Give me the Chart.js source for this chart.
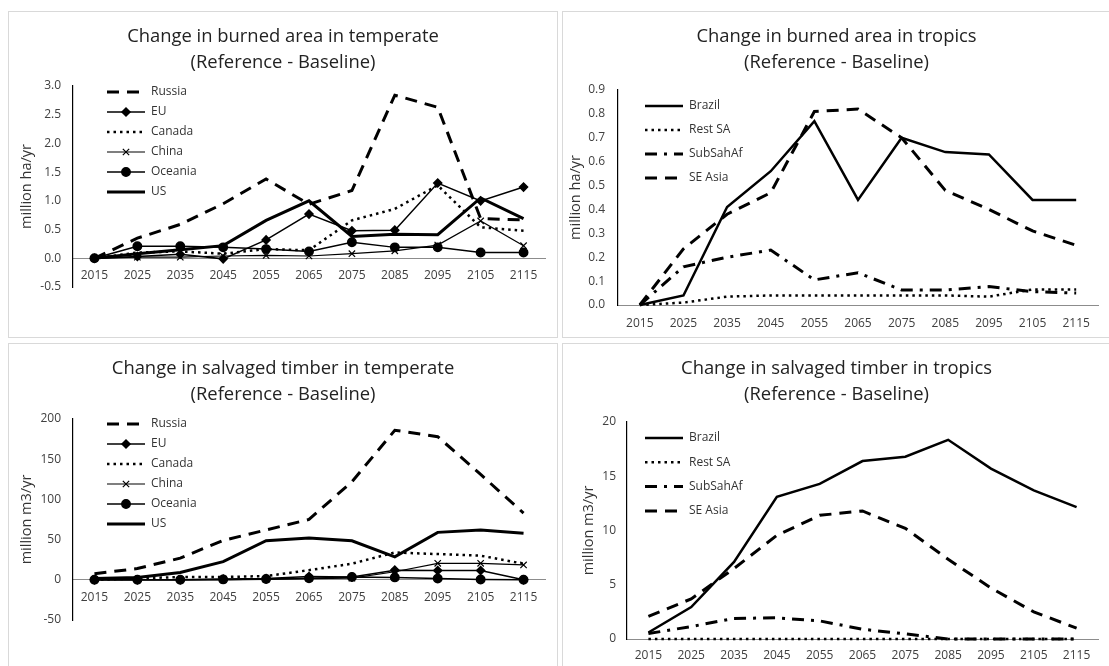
<!DOCTYPE html>
<html>
<head>
<meta charset="utf-8">
<script src="https://cdn.jsdelivr.net/npm/chart.js@4.4.0/dist/chart.umd.min.js"></script>
<style>
    body { margin: 0; background: #fff; width: 1109px; height: 666px; overflow: hidden; position: relative; }
    .panel { position: absolute; border: 1px solid #d9d9d9; box-sizing: border-box; }
    canvas { display: block; }
</style>
</head>
<body>
<div class="panel" style="left:8px;top:11px;width:550px;height:327px;"><canvas id="burned-temperate" width="548" height="325"></canvas></div>
<div class="panel" style="left:562px;top:11px;width:549px;height:327px;"><canvas id="burned-tropics" width="547" height="325"></canvas></div>
<div class="panel" style="left:8px;top:343px;width:550px;height:330px;"><canvas id="salvaged-temperate" width="548" height="328"></canvas></div>
<div class="panel" style="left:562px;top:343px;width:549px;height:330px;"><canvas id="salvaged-tropics" width="547" height="328"></canvas></div>
<script>
const years = ['2015', '2025', '2035', '2045', '2055', '2065', '2075', '2085', '2095', '2105', '2115'];

// burned area, temperate (million ha/yr)
const russiaBurned = [0, 0.35, 0.59, 0.95, 1.38, 0.94, 1.18, 2.84, 2.63, 0.69, 0.67];
const euBurned = [0, 0.03, 0.07, -0.01, 0.32, 0.77, 0.48, 0.49, 1.31, 1.0, 1.24];
const canadaBurned = [0, 0.1, 0.12, 0.08, 0.16, 0.14, 0.66, 0.86, 1.27, 0.54, 0.48];
const chinaBurned = [0, 0.02, 0.02, 0.04, 0.05, 0.04, 0.08, 0.13, 0.23, 0.65, 0.22];
const oceaniaBurned = [0, 0.21, 0.21, 0.19, 0.16, 0.12, 0.28, 0.19, 0.19, 0.1, 0.1];
const usBurned = [0, 0.08, 0.15, 0.22, 0.66, 1.0, 0.38, 0.42, 0.41, 1.05, 0.69];

// burned area, tropics (million ha/yr)
const brazilBurned = [0, 0.04, 0.41, 0.56, 0.77, 0.44, 0.70, 0.64, 0.63, 0.44, 0.44];
const restSaBurned = [0, 0.01, 0.035, 0.04, 0.04, 0.04, 0.04, 0.04, 0.035, 0.065, 0.065];
const subSahAfBurned = [0, 0.16, 0.2, 0.23, 0.105, 0.135, 0.063, 0.063, 0.077, 0.056, 0.05];
const seAsiaBurned = [0, 0.235, 0.38, 0.47, 0.81, 0.82, 0.70, 0.48, 0.40, 0.31, 0.25];

// salvaged timber, temperate (million m3/yr)
const russiaSalvaged = [7.5, 14, 27, 49, 62, 75, 122, 186, 178, 131, 83];
const euSalvaged = [0, 0, 0, 1, 1.5, 4, 3.5, 12, 11.5, 11.5, 0];
const canadaSalvaged = [0, 1.7, 3.5, 3.5, 4.6, 12, 20, 34, 32, 30, 20];
const chinaSalvaged = [0, 0, 0, 0, 0.5, 1.5, 2, 10, 20.5, 20.5, 18.5];
const oceaniaSalvaged = [0, 0, 0, 0.5, 1, 2, 3.5, 3, 1.5, 0.3, 0];
const usSalvaged = [1.5, 3, 9, 22.6, 48.6, 52, 48.6, 28.5, 59, 62, 58];

// salvaged timber, tropics (million m3/yr)
const brazilSalvaged = [0.6, 2.95, 7.1, 13.1, 14.3, 16.4, 16.8, 18.36, 15.7, 13.7, 12.15];
const restSaSalvaged = [0, 0, 0, 0, 0, 0, 0, 0, 0, 0, 0];
const subSahAfSalvaged = [0.5, 1.15, 1.9, 1.95, 1.67, 0.9, 0.47, 0, 0, 0, 0];
const seAsiaSalvaged = [2.08, 3.7, 6.5, 9.55, 11.4, 11.8, 10.2, 7.35, 4.7, 2.5, 1.0];

const FONT = "'Open Sans', sans-serif";
const INK = '#000';

// line styles, shared by both temperate and both tropical charts
const styles = {
    dashed: { borderWidth: 3, borderDash: [12, 8], pointRadius: 0 },
    dotted: { borderWidth: 2.5, borderDash: [2.5, 4], pointRadius: 0 },
    dashDot: { borderWidth: 3, borderDash: [12, 7, 3, 7], pointRadius: 0 },
    thick: { borderWidth: 3, pointRadius: 0 },
    medium: { borderWidth: 2.5, pointRadius: 0 },
    diamond: { borderWidth: 1.5, pointStyle: 'rectRot', pointRadius: 4 },
    cross: { borderWidth: 1.2, pointStyle: 'crossRot', pointRadius: 4.5 },
    circle: { borderWidth: 1.5, pointStyle: 'circle', pointRadius: 4.2 }
};

function series(label, data, style) {
    return Object.assign({
        label: label,
        data: data,
        borderColor: INK,
        backgroundColor: INK,
        pointBorderColor: INK,
        pointBackgroundColor: INK,
        pointHoverRadius: 0,
        tension: 0,
        fill: false,
        clip: false
    }, styles[style]);
}

// legend drawn inside the plot, one entry per row like the Excel original
const insideLegend = {
    id: 'insideLegend',
    afterDatasetsDraw(chart, args, opts) {
        const ctx = chart.ctx;
        ctx.save();
        chart.data.datasets.forEach((ds, i) => {
            const y = opts.y + i * opts.spacing;
            ctx.strokeStyle = ds.borderColor;
            ctx.lineWidth = ds.borderWidth;
            ctx.setLineDash(ds.borderDash || []);
            ctx.beginPath();
            ctx.moveTo(opts.x, y);
            ctx.lineTo(opts.x + opts.length, y);
            ctx.stroke();
            ctx.setLineDash([]);
            if (ds.pointRadius > 0) {
                ctx.fillStyle = ds.pointBackgroundColor;
                ctx.strokeStyle = ds.pointBorderColor;
                Chart.helpers.drawPoint(ctx, {
                    pointStyle: ds.pointStyle,
                    radius: ds.pointRadius,
                    rotation: 0,
                    borderWidth: ds.borderWidth
                }, opts.x + opts.length / 2, y);
            }
            ctx.fillStyle = '#333';
            ctx.font = opts.fontSize + 'px ' + FONT;
            ctx.textAlign = 'left';
            ctx.textBaseline = 'middle';
            ctx.fillText(ds.label, opts.x + opts.length + opts.gap, y);
        });
        ctx.restore();
    }
};

function makeChart(id, p) {
    const ctx = document.getElementById(id).getContext('2d');
    return new Chart(ctx, {
        type: 'line',
        data: { labels: years, datasets: p.datasets },
        plugins: [insideLegend],
        options: {
            responsive: false,
            animation: false,
            events: [],
            layout: { padding: 0 },
            plugins: {
                legend: { display: false },
                tooltip: { enabled: false },
                title: {
                    display: true,
                    text: p.title,
                    color: '#222',
                    font: { family: FONT, size: 18.4, weight: 'normal', lineHeight: 26 / 18.4 },
                    padding: { top: 12, bottom: p.titleGap }
                },
                insideLegend: p.legend
            },
            scales: {
                x: {
                    position: { y: 0 },
                    offset: true,
                    grid: { display: false, drawTicks: false },
                    border: { display: true, color: '#8c8c8c', width: 1 },
                    ticks: { color: '#404040', font: { family: FONT, size: 12 }, padding: p.xPad, maxRotation: 0, autoSkip: false },
                    // right margin of the plot is kept through the axis padding so the title stays centred
                    afterFit(scale) { scale.paddingLeft = 0; scale.paddingRight = p.right; }
                },
                y: {
                    min: p.min,
                    max: p.max,
                    grid: { display: false, drawTicks: false },
                    border: { display: true, color: '#000', width: 1.2 },
                    ticks: {
                        stepSize: p.step,
                        color: '#404040',
                        font: { family: FONT, size: 12 },
                        padding: p.yPad,
                        callback: value => value.toFixed(p.decimals)
                    },
                    title: {
                        display: true,
                        text: p.yTitle,
                        color: '#333',
                        font: { family: FONT, size: 14.5 },
                        padding: { top: p.yTitleX - 9, bottom: 0 }
                    },
                    afterFit(scale) {
                        scale.width = p.axisLeft;
                        scale.paddingTop = 0;
                        scale.paddingBottom = p.bottom;
                    }
                }
            }
        }
    });
}

document.addEventListener('DOMContentLoaded', () => {
    makeChart('burned-temperate', {
        title: ['Change in burned area in temperate', '(Reference - Baseline)'],
        yTitle: 'million ha/yr',
        datasets: [
            series('Russia', russiaBurned, 'dashed'),
            series('EU', euBurned, 'diamond'),
            series('Canada', canadaBurned, 'dotted'),
            series('China', chinaBurned, 'cross'),
            series('Oceania', oceaniaBurned, 'circle'),
            series('US', usBurned, 'thick')
        ],
        min: -0.5, max: 3.0, step: 0.5, decimals: 1,
        axisLeft: 64, right: 12, bottom: 50, titleGap: 10,
        xPad: 10, yPad: 12, yTitleX: 18,
        legend: { x: 98, y: 80, spacing: 20, length: 38, gap: 6, fontSize: 12 }
    });

    makeChart('burned-tropics', {
        title: ['Change in burned area in tropics', '(Reference - Baseline)'],
        yTitle: 'million ha/yr',
        datasets: [
            series('Brazil', brazilBurned, 'medium'),
            series('Rest SA', restSaBurned, 'dotted'),
            series('SubSahAf', subSahAfBurned, 'dashDot'),
            series('SE Asia', seAsiaBurned, 'dashed')
        ],
        min: 0, max: 0.9, step: 0.1, decimals: 1,
        axisLeft: 55, right: 12, bottom: 32, titleGap: 14,
        xPad: 11, yPad: 13, yTitleX: 13,
        legend: { x: 82, y: 94, spacing: 24, length: 38, gap: 6, fontSize: 12 }
    });

    makeChart('salvaged-temperate', {
        title: ['Change in salvaged timber in temperate', '(Reference - Baseline)'],
        yTitle: 'million m3/yr',
        datasets: [
            series('Russia', russiaSalvaged, 'dashed'),
            series('EU', euSalvaged, 'diamond'),
            series('Canada', canadaSalvaged, 'dotted'),
            series('China', chinaSalvaged, 'cross'),
            series('Oceania', oceaniaSalvaged, 'circle'),
            series('US', usSalvaged, 'thick')
        ],
        min: -50, max: 200, step: 50, decimals: 0,
        axisLeft: 64, right: 12, bottom: 52, titleGap: 11,
        xPad: 11, yPad: 12, yTitleX: 18,
        legend: { x: 98, y: 80, spacing: 20, length: 38, gap: 6, fontSize: 12 }
    });

    makeChart('salvaged-tropics', {
        title: ['Change in salvaged timber in tropics', '(Reference - Baseline)'],
        yTitle: 'million m3/yr',
        datasets: [
            series('Brazil', brazilSalvaged, 'medium'),
            series('Rest SA', restSaSalvaged, 'dotted'),
            series('SubSahAf', subSahAfSalvaged, 'dashDot'),
            series('SE Asia', seAsiaSalvaged, 'dashed')
        ],
        min: 0, max: 20, step: 5, decimals: 0,
        axisLeft: 64, right: 12, bottom: 33, titleGap: 14,
        xPad: 9, yPad: 11, yTitleX: 26,
        legend: { x: 82, y: 94, spacing: 24.3, length: 38, gap: 6, fontSize: 12 }
    });
});
</script>
</body>
</html>
